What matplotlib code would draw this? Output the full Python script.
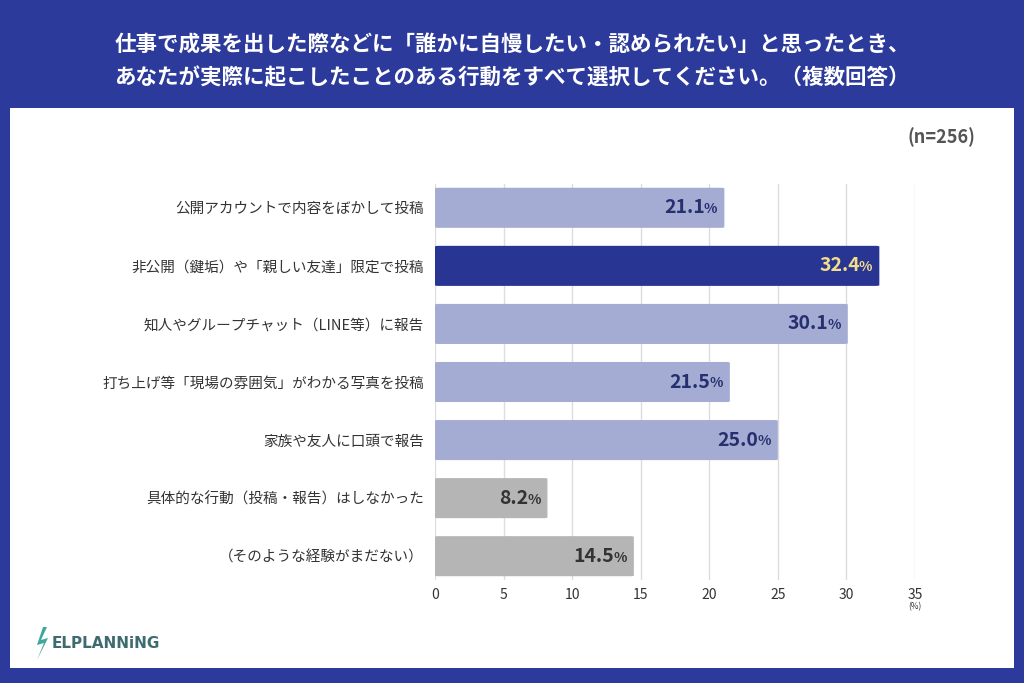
import matplotlib
matplotlib.use('Agg')
import matplotlib.pyplot as plt
from matplotlib.patches import Rectangle, Polygon, FancyBboxPatch

plt.rcParams['font.family'] = ['Noto Sans CJK JP', 'DejaVu Sans']

categories = ['公開アカウントで内容をぼかして投稿',
              '非公開（鍵垢）や「親しい友達」限定で投稿',
              '知人やグループチャット（LINE等）に報告',
              '打ち上げ等「現場の雰囲気」がわかる写真を投稿',
              '家族や友人に口頭で報告',
              '具体的な行動（投稿・報告）はしなかった',
              '（そのような経験がまだない）']
values = [21.1, 32.4, 30.1, 21.5, 25.0, 8.2, 14.5]
kinds = ['light', 'dark', 'light', 'light', 'light', 'grey', 'grey']
ticks = [0, 5, 10, 15, 20, 25, 30, 35]

bar_colors = {'light': '#a5acd4', 'dark': '#283593', 'grey': '#b5b5b5'}
label_colors = {'light': '#26306e', 'dark': '#f3dc8a', 'grey': '#333333'}
bg = '#2b3a9b'

fig = plt.figure(figsize=(10.24, 6.83), dpi=100, facecolor=bg)
fig.patches.append(Rectangle((10 / 1024, 1 - 668 / 683), 1004 / 1024, 560 / 683,
                             transform=fig.transFigure, facecolor='white', edgecolor='none', zorder=-5))

fig.text(0.5, 1 - 45 / 683, '仕事で成果を出した際などに「誰かに自慢したい・認められたい」と思ったとき、',
         color='white', fontsize=15.5, fontweight='bold', ha='center', va='center')
fig.text(0.5, 1 - 77 / 683, 'あなたが実際に起こしたことのある行動をすべて選択してください。（複数回答）',
         color='white', fontsize=15.5, fontweight='bold', ha='center', va='center')
fig.text(975 / 1024, 1 - 137 / 683, '(n=256)', color='#555555', fontsize=13, fontweight='bold',
         ha='right', va='center')

ax = fig.add_axes([435 / 1024, 1 - 580 / 683, 480 / 1024, 396 / 683])
ax.set_facecolor('none')
ax.set_xlim(0, 35)
ax.set_ylim(6.41, -0.41)
ax.set_axisbelow(True)
ax.grid(axis='x', color='#dddddd', linewidth=1)
for s in ax.spines.values():
    s.set_visible(False)
ax.tick_params(length=0)
ax.set_xticks(ticks)
ax.set_xticklabels([str(t) for t in ticks], fontsize=10, color='#333333')
ax.tick_params(axis='x', pad=6)
ax.set_yticks(range(len(categories)))
ax.set_yticklabels(categories, fontsize=10.5, color='#333333')
ax.tick_params(axis='y', pad=8)

for i, (v, k) in enumerate(zip(values, kinds)):
    ax.add_patch(FancyBboxPatch((0, i - 0.345), v, 0.69, boxstyle='round,pad=0,rounding_size=0.25',
                                mutation_aspect=0.05, facecolor=bar_colors[k], edgecolor='none'))
    ax.annotate('%', (v, i), xytext=(-5, -1), textcoords='offset points', ha='right', va='center',
                fontsize=10, color=label_colors[k], fontweight='bold')
    ax.annotate(f'{v:.1f}', (v, i), xytext=(-14, 0), textcoords='offset points', ha='right',
                va='center', fontsize=14, color=label_colors[k], fontweight='bold')

fig.text(915 / 1024, 1 - 607 / 683, '(%)', fontsize=6, color='#333333', ha='center', va='center')

# logo
bolt = Polygon([(43, 627), (37, 645), (44, 643), (37, 660), (48, 638), (41, 640), (47, 627)],
               closed=True, transform=None, facecolor='#3fa89b', edgecolor='none')
bolt.set_xy([(x, 683 - y) for x, y in bolt.get_xy()])
fig.patches.append(bolt)
fig.text(52 / 1024, 1 - 643 / 683, 'ELPLANNiNG', fontsize=11, fontweight='bold',
         color='#3d6b70', ha='left', va='center', family='DejaVu Sans')

fig.savefig('out.png', dpi=100, facecolor=bg)
